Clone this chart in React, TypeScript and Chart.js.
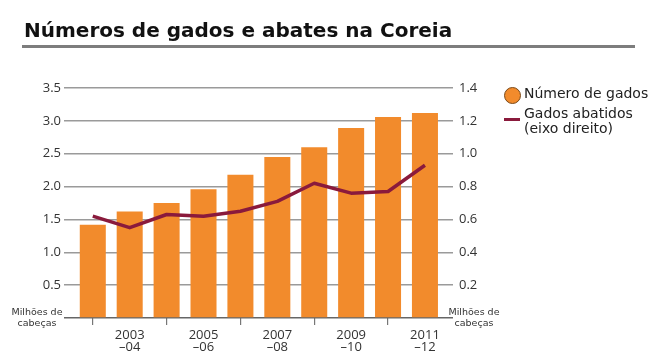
import React, { useEffect, useRef } from "react";
import { Chart, registerables } from "chart.js";

Chart.register(...registerables);

const seasons = ["2002-03", "2003-04", "2004-05", "2005-06", "2006-07", "2007-08", "2008-09", "2009-10", "2010-11", "2011-12"];
const cattleNumbers = [1.42, 1.62, 1.75, 1.96, 2.18, 2.45, 2.6, 2.89, 3.06, 3.12];
const cattleSlaughtered = [0.62, 0.55, 0.63, 0.62, 0.65, 0.71, 0.82, 0.76, 0.77, 0.93];
const xTickLabels: string[][] = [[], ["2003", "–04"], [], ["2005", "–06"], [], ["2007", "–08"], [], ["2009", "–10"], [], ["2011", "–12"]];

const ORANGE = "#F28B2C";
const MAROON = "#8A1A3C";
const TICK_FONT = { family: "'Open Sans', sans-serif", size: 13 };

export default function App() {
  const ref = useRef<HTMLCanvasElement | null>(null);

  useEffect(() => {
    if (!ref.current) return;
    const chart = new Chart(ref.current, {
      type: "bar",
      data: {
        datasets: [
          {
            type: "line",
            label: "Gados abatidos (eixo direito)",
            data: cattleSlaughtered.map((v, i) => ({ x: i, y: v })),
            yAxisID: "y1",
            borderColor: MAROON,
            borderWidth: 3.5,
            pointRadius: 0,
            tension: 0,
            borderJoinStyle: "round",
            order: 0,
          } as any,
          {
            type: "bar",
            label: "Número de gados",
            data: cattleNumbers.map((v, i) => ({ x: i, y: v })),
            yAxisID: "y",
            backgroundColor: ORANGE,
            borderWidth: 0,
            categoryPercentage: 1,
            barPercentage: 0.705,
            order: 1,
          } as any,
        ],
      },
      options: {
        animation: false,
        responsive: false,
        devicePixelRatio: 1,
        layout: { padding: { top: 88, left: 0, right: 0, bottom: 0 } },
        plugins: { legend: { display: false }, title: { display: false }, tooltip: { enabled: false } },
        scales: {
          x: {
            type: "linear",
            min: -0.78,
            max: 9.76,
            offset: false,
            afterBuildTicks: (scale: any) => {
              scale.ticks = seasons.map((_, i) => ({ value: i }));
            },
            afterFit: (scale: any) => {
              scale.height = 44;
            },
            border: { display: false },
            grid: {
              offset: false,
              drawOnChartArea: false,
              drawTicks: true,
              tickLength: 7,
              lineWidth: 1.2,
              color: (ctx: any) => (ctx.index % 2 === 0 ? "#777" : "rgba(0,0,0,0)"),
            },
            ticks: {
              autoSkip: false,
              maxRotation: 0,
              padding: 4,
              color: "#333",
              font: { ...TICK_FONT, lineHeight: "12px" },
              callback: (value: any) => xTickLabels[value] ?? "",
            },
          } as any,
          y: {
            type: "linear",
            position: "left",
            min: 0,
            max: 3.5,
            afterFit: (scale: any) => {
              scale.width = 64;
            },
            border: { display: false },
            grid: {
              drawTicks: false,
              lineWidth: 1.5,
              color: (ctx: any) => (ctx.tick && ctx.tick.value === 0 ? "#666" : "#9a9a9a"),
            },
            ticks: {
              stepSize: 0.5,
              padding: 3,
              color: "#333",
              font: TICK_FONT,
              callback: (value: any) => (value === 0 ? "" : Number(value).toFixed(1)),
            },
          } as any,
          y1: {
            type: "linear",
            position: "right",
            min: 0,
            max: 1.4,
            afterFit: (scale: any) => {
              scale.width = 207;
            },
            border: { display: false },
            grid: { drawOnChartArea: false, drawTicks: false },
            ticks: {
              stepSize: 0.2,
              padding: 6,
              color: "#333",
              font: TICK_FONT,
              callback: (value: any) => (value === 0 ? "" : Number(value).toFixed(1)),
            },
          } as any,
        },
      },
    });
    return () => chart.destroy();
  }, []);

  const unitStyle: React.CSSProperties = {
    position: "absolute",
    width: 60,
    textAlign: "center",
    font: "9.5px 'DejaVu Sans', sans-serif",
    lineHeight: "11px",
    color: "#333",
  };

  return (
    <div style={{ position: "fixed", left: 0, top: 0, width: 660, height: 362, background: "#fff", overflow: "hidden" }}>
      <canvas ref={ref} width={660} height={362} style={{ position: "absolute", left: 0, top: 0, width: 660, height: 362 }} />
      <div
        style={{
          position: "absolute",
          left: 24,
          top: 18,
          font: "bold 20px 'DejaVu Sans', sans-serif",
          lineHeight: "24px",
          color: "#111",
          whiteSpace: "nowrap",
        }}
      >
        Números de gados e abates na Coreia
      </div>
      <div style={{ position: "absolute", left: 22, top: 45, width: 613, height: 3, background: "#7d7d7d" }} />
      <div
        style={{
          position: "absolute",
          left: 504,
          top: 87,
          width: 15,
          height: 15,
          borderRadius: "50%",
          background: ORANGE,
          border: "1px solid #7a4a1a",
        }}
      />
      <div style={{ position: "absolute", left: 524, top: 85, font: "14px 'DejaVu Sans', sans-serif", lineHeight: "16px", color: "#222", whiteSpace: "nowrap" }}>
        Número de gados
      </div>
      <div style={{ position: "absolute", left: 504, top: 118, width: 16, height: 3, background: MAROON }} />
      <div style={{ position: "absolute", left: 524, top: 105.5, font: "14px 'DejaVu Sans', sans-serif", lineHeight: "15px", color: "#222", whiteSpace: "nowrap" }}>
        Gados abatidos
        <br />
        (eixo direito)
      </div>
      <div style={{ ...unitStyle, left: 7, top: 306 }}>
        Milhões de
        <br />
        cabeças
      </div>
      <div style={{ ...unitStyle, left: 444, top: 306 }}>
        Milhões de
        <br />
        cabeças
      </div>
    </div>
  );
}
